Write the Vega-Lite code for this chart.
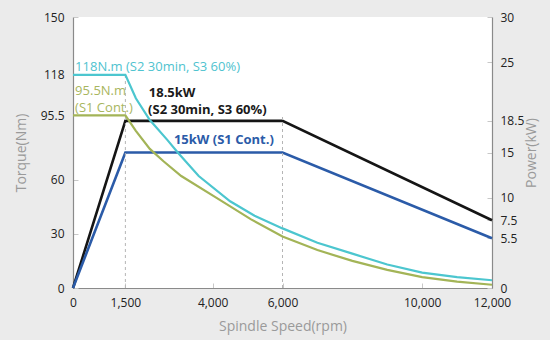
{
  "$schema": "https://vega.github.io/schema/vega-lite/v6.json",
  "width": 419,
  "height": 271,
  "autosize": "none",
  "padding": {"left": 73, "top": 17, "right": 58, "bottom": 52},
  "background": "#ebebeb",
  "config": {
    "view": {"fill": "white", "stroke": null},
    "font": "Open Sans",
    "axis": {
      "domainColor": "#8a8a8a",
      "domainWidth": 1.2,
      "tickColor": "#c8c8c8",
      "tickSize": -5,
      "labelPadding": 14,
      "labelColor": "#222222",
      "labelFontSize": 12,
      "labelFlush": false,
      "labelOverlap": false,
      "titleColor": "#9a9a9a",
      "titleFontSize": 14,
      "titleFontWeight": "normal",
      "grid": false
    }
  },
  "datasets": {
    "torque": [
      {"series": "118N.m (S2 30min, S3 60%)", "rpm": 0, "torque": 118},
      {"series": "118N.m (S2 30min, S3 60%)", "rpm": 1500, "torque": 118},
      {"series": "118N.m (S2 30min, S3 60%)", "rpm": 1800, "torque": 105},
      {"series": "118N.m (S2 30min, S3 60%)", "rpm": 2200, "torque": 93},
      {"series": "118N.m (S2 30min, S3 60%)", "rpm": 2700, "torque": 82},
      {"series": "118N.m (S2 30min, S3 60%)", "rpm": 3000, "torque": 75},
      {"series": "118N.m (S2 30min, S3 60%)", "rpm": 3600, "torque": 62},
      {"series": "118N.m (S2 30min, S3 60%)", "rpm": 4500, "torque": 48},
      {"series": "118N.m (S2 30min, S3 60%)", "rpm": 5200, "torque": 40},
      {"series": "118N.m (S2 30min, S3 60%)", "rpm": 6000, "torque": 33},
      {"series": "118N.m (S2 30min, S3 60%)", "rpm": 7000, "torque": 25},
      {"series": "118N.m (S2 30min, S3 60%)", "rpm": 8000, "torque": 19},
      {"series": "118N.m (S2 30min, S3 60%)", "rpm": 9000, "torque": 13},
      {"series": "118N.m (S2 30min, S3 60%)", "rpm": 10000, "torque": 8.5},
      {"series": "118N.m (S2 30min, S3 60%)", "rpm": 11000, "torque": 6},
      {"series": "118N.m (S2 30min, S3 60%)", "rpm": 12000, "torque": 4.3},
      {"series": "95.5N.m (S1 Cont.)", "rpm": 0, "torque": 95.5},
      {"series": "95.5N.m (S1 Cont.)", "rpm": 1500, "torque": 95.5},
      {"series": "95.5N.m (S1 Cont.)", "rpm": 1800, "torque": 87},
      {"series": "95.5N.m (S1 Cont.)", "rpm": 2200, "torque": 77},
      {"series": "95.5N.m (S1 Cont.)", "rpm": 2600, "torque": 70},
      {"series": "95.5N.m (S1 Cont.)", "rpm": 3100, "torque": 62},
      {"series": "95.5N.m (S1 Cont.)", "rpm": 4100, "torque": 50},
      {"series": "95.5N.m (S1 Cont.)", "rpm": 5100, "torque": 38},
      {"series": "95.5N.m (S1 Cont.)", "rpm": 6000, "torque": 28.5},
      {"series": "95.5N.m (S1 Cont.)", "rpm": 7000, "torque": 21},
      {"series": "95.5N.m (S1 Cont.)", "rpm": 8000, "torque": 15},
      {"series": "95.5N.m (S1 Cont.)", "rpm": 9000, "torque": 10},
      {"series": "95.5N.m (S1 Cont.)", "rpm": 10000, "torque": 6},
      {"series": "95.5N.m (S1 Cont.)", "rpm": 11000, "torque": 3.5},
      {"series": "95.5N.m (S1 Cont.)", "rpm": 12000, "torque": 1.8}
    ],
    "power": [
      {"series": "18.5kW (S2 30min, S3 60%)", "rpm": 0, "power": 0},
      {"series": "18.5kW (S2 30min, S3 60%)", "rpm": 1500, "power": 18.5},
      {"series": "18.5kW (S2 30min, S3 60%)", "rpm": 6000, "power": 18.5},
      {"series": "18.5kW (S2 30min, S3 60%)", "rpm": 12000, "power": 7.5},
      {"series": "15kW (S1 Cont.)", "rpm": 0, "power": 0},
      {"series": "15kW (S1 Cont.)", "rpm": 1500, "power": 15},
      {"series": "15kW (S1 Cont.)", "rpm": 6000, "power": 15},
      {"series": "15kW (S1 Cont.)", "rpm": 12000, "power": 5.5}
    ],
    "markers": [
      {"rpm": 1500, "bottom": 0, "top": 118},
      {"rpm": 6000, "bottom": 0, "top": 95.5}
    ],
    "labels": [
      {"group": "cyan", "text": "118N.m (S2 30min, S3 60%)", "rpm": 60, "torque": 122.3},
      {"group": "green", "text": "95.5N.m", "rpm": 60, "torque": 109.2},
      {"group": "green", "text": "(S1 Cont.)", "rpm": 60, "torque": 99.4},
      {"group": "black", "text": "18.5kW", "rpm": 2170, "torque": 108.1},
      {"group": "black", "text": "(S2 30min, S3 60%)", "rpm": 2150, "torque": 98.5},
      {"group": "blue", "text": "15kW (S1 Cont.)", "rpm": 2890, "torque": 81.9}
    ]
  },
  "encoding": {
    "x": {"field": "rpm", "type": "quantitative", "scale": {"domain": [0, 12000], "nice": false},
      "axis": {"values": [0, 1500, 4000, 6000, 10000, 12000], "labelExpr": "format(datum.value, ',')", "labelPadding": 14, "title": "Spindle Speed(rpm)", "titlePadding": 11}}
  },
  "layer": [
    {
      "data": {"name": "power"},
      "mark": {"type": "line", "strokeWidth": 2.6},
      "encoding": {
        "y": {"field": "power", "type": "quantitative", "scale": {"domain": [0, 30], "nice": false},
          "axis": {"orient": "right", "values": [0, 5.5, 7.5, 10, 15, 18.5, 25, 30], "labelExpr": "format(datum.value, '~g')", "title": "Power(kW)", "titleAngle": 270, "labelPadding": 13, "titlePadding": 15}},
        "color": {"field": "series", "type": "nominal", "legend": null,
          "scale": {"domain": ["18.5kW (S2 30min, S3 60%)", "15kW (S1 Cont.)", "118N.m (S2 30min, S3 60%)", "95.5N.m (S1 Cont.)"], "range": ["#151515", "#2b5ba8", "#4cc6cf", "#a3b457"]}}
      }
    },
    {
      "layer": [
        {
          "data": {"name": "markers"},
          "mark": {"type": "rule", "color": "#b5b5b5", "strokeDash": [3, 3], "strokeWidth": 1},
          "encoding": {
            "y": {"field": "bottom", "type": "quantitative"},
            "y2": {"field": "top"}
          }
        },
        {
          "data": {"name": "torque"},
          "mark": {"type": "line", "strokeWidth": 2.2},
          "encoding": {
            "y": {"field": "torque", "type": "quantitative", "scale": {"domain": [0, 150], "nice": false},
              "axis": {"orient": "left", "values": [0, 30, 60, 95.5, 118, 150], "labelExpr": "format(datum.value, '~g')", "title": "Torque(Nm)", "titlePadding": 12}},
            "color": {"field": "series", "type": "nominal", "legend": null}
          }
        },
        {
          "data": {"name": "labels"},
          "transform": [{"filter": "datum.group === 'cyan'"}],
          "mark": {"type": "text", "align": "left", "baseline": "middle", "fontSize": 13, "color": "#4fc3cf"},
          "encoding": {"y": {"field": "torque", "type": "quantitative"}, "text": {"field": "text"}}
        },
        {
          "data": {"name": "labels"},
          "transform": [{"filter": "datum.group === 'green'"}],
          "mark": {"type": "text", "align": "left", "baseline": "middle", "fontSize": 13, "color": "#a8b65e"},
          "encoding": {"y": {"field": "torque", "type": "quantitative"}, "text": {"field": "text"}}
        },
        {
          "data": {"name": "labels"},
          "transform": [{"filter": "datum.group === 'black'"}],
          "mark": {"type": "text", "align": "left", "baseline": "middle", "fontSize": 13, "fontWeight": "bold", "color": "#1a1a1a"},
          "encoding": {"y": {"field": "torque", "type": "quantitative"}, "text": {"field": "text"}}
        },
        {
          "data": {"name": "labels"},
          "transform": [{"filter": "datum.group === 'blue'"}],
          "mark": {"type": "text", "align": "left", "baseline": "middle", "fontSize": 13, "fontWeight": "bold", "color": "#2b5ba8"},
          "encoding": {"y": {"field": "torque", "type": "quantitative"}, "text": {"field": "text"}}
        }
      ]
    }
  ],
  "resolve": {"scale": {"y": "independent"}}
}
